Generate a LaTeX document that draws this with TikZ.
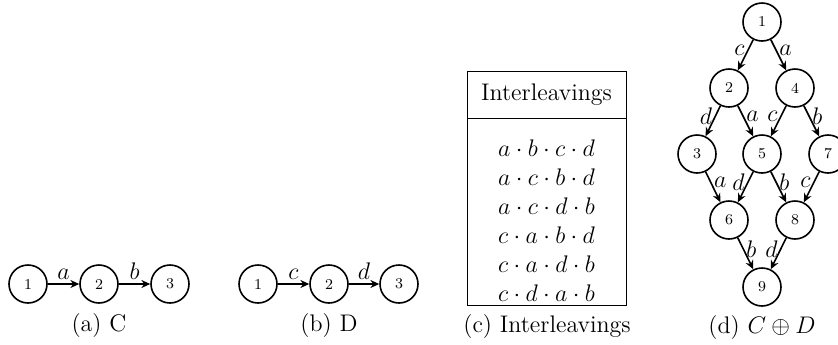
\documentclass[tikz,border=0pt,12pt]{standalone}
\usetikzlibrary{arrows.meta}
\begin{document}
\begin{tikzpicture}[x=0.5pt,y=-0.5pt,
  st/.style={circle,draw,thick,minimum size=19pt,inner sep=0pt,font=\fontsize{7.5}{9}\selectfont},
  tr/.style={thick,-{Stealth[length=4.4pt,width=4pt]}},
  lbl/.style={inner sep=1.2pt},
  captxt/.style={font=\normalsize}]
\useasboundingbox (0,0) rectangle (838,344);
% (a)
\node[st] (a1) at (28,284) {1};
\node[st] (a2) at (99,284) {2};
\node[st] (a3) at (170,284) {3};
\draw[tr] (a1) -- node[above,inner sep=2pt] {$a$} (a2);
\draw[tr] (a2) -- node[above,inner sep=2pt] {$b$} (a3);
\node[captxt] (capa) at (99,325) {(a) C};
% (b)
\node[st] (b1) at (258,284) {1};
\node[st] (b2) at (329,284) {2};
\node[st] (b3) at (399,284) {3};
\draw[tr] (b1) -- node[above,inner sep=2pt] {$c$} (b2);
\draw[tr] (b2) -- node[above,inner sep=2pt] {$d$} (b3);
\node[captxt] (capb) at (329,325) {(b) D};
% (c)
\draw[thin] (467,71) rectangle (626,305);
\draw[thin] (467,118) -- (626,118);
\node (hdr) at (546.5,95) {Interleavings};
\node (r1) at (546.5,148) {$a\cdot b\cdot c\cdot d$};
\node (r2) at (546.5,177) {$a\cdot c\cdot b\cdot d$};
\node (r3) at (546.5,206) {$a\cdot c\cdot d\cdot b$};
\node (r4) at (546.5,235) {$c\cdot a\cdot b\cdot d$};
\node (r5) at (546.5,264) {$c\cdot a\cdot d\cdot b$};
\node (r6) at (546.5,293) {$c\cdot d\cdot a\cdot b$};
\node[captxt] (capc) at (547,326) {(c) Interleavings};
% (d)
\node[st] (d1) at (762,22) {1};
\node[st] (d2) at (729,88) {2};
\node[st] (d4) at (795,88) {4};
\node[st] (d3) at (697,154) {3};
\node[st] (d5) at (762,154) {5};
\node[st] (d7) at (828,154) {7};
\node[st] (d6) at (729,220) {6};
\node[st] (d8) at (795,220) {8};
\node[st] (d9) at (762,287) {9};
\draw[tr] (d1) -- node[pos=0.35,left,lbl] {$c$} (d2);
\draw[tr] (d1) -- node[pos=0.35,right,lbl] {$a$} (d4);
\draw[tr] (d2) -- node[pos=0.35,left,lbl] {$d$} (d3);
\draw[tr] (d2) -- node[pos=0.35,right,lbl] {$a$} (d5);
\draw[tr] (d4) -- node[pos=0.35,left,lbl] {$c$} (d5);
\draw[tr] (d4) -- node[pos=0.35,right,lbl] {$b$} (d7);
\draw[tr] (d3) -- node[pos=0.35,right,lbl] {$a$} (d6);
\draw[tr] (d5) -- node[pos=0.35,left,lbl] {$d$} (d6);
\draw[tr] (d5) -- node[pos=0.35,right,lbl] {$b$} (d8);
\draw[tr] (d7) -- node[pos=0.35,left,lbl] {$c$} (d8);
\draw[tr] (d6) -- node[pos=0.35,right,lbl] {$b$} (d9);
\draw[tr] (d8) -- node[pos=0.35,left,lbl] {$d$} (d9);
\node[captxt] (capd) at (762,327) {(d) $C\oplus D$};
\end{tikzpicture}
\end{document}
